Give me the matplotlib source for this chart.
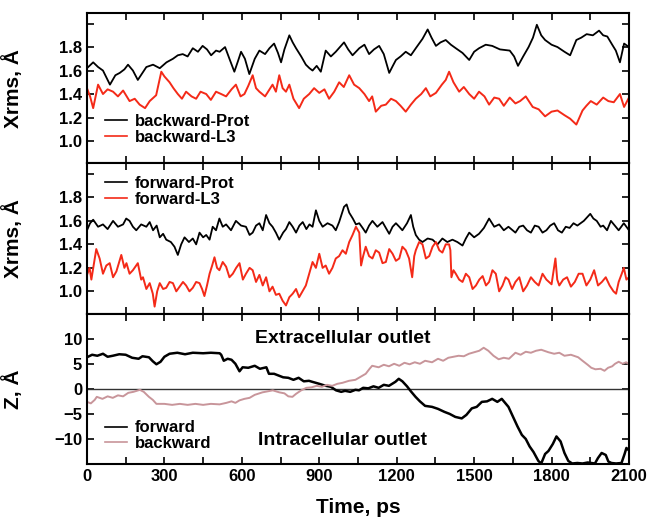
import matplotlib
matplotlib.use('Agg')
import matplotlib.pyplot as plt
from matplotlib.ticker import MultipleLocator, FixedLocator

plt.rcParams['font.family'] = ['Liberation Sans', 'DejaVu Sans']
plt.rcParams['font.weight'] = 'bold'

# backward run, Xrms
bp_t = [0, 24, 43, 62, 89, 110, 127, 145, 159, 178, 197, 215, 230, 256, 282, 308, 333, 352, 371, 390,
        410, 430, 448, 465, 481, 500, 514, 535, 552, 571, 585, 597, 612, 629, 650, 668, 690, 707, 725, 740,
        752, 765, 784, 797, 810, 830, 848, 862, 874, 890, 906, 925, 945, 964, 980, 996, 1012, 1029, 1055, 1075,
        1093, 1112, 1132, 1150, 1171, 1185, 1197, 1215, 1235, 1255, 1274, 1300, 1320, 1335, 1352, 1370, 1390, 1410, 1429, 1455,
        1481, 1500, 1519, 1545, 1570, 1600, 1638, 1655, 1670, 1690, 1711, 1728, 1743, 1760, 1775, 1800, 1823, 1850, 1872, 1896,
        1915, 1936, 1960, 1984, 2000, 2016, 2035, 2049, 2065, 2081, 2100]
bp_v = [1.62, 1.67, 1.63, 1.60, 1.48, 1.56, 1.58, 1.61, 1.65, 1.60, 1.52, 1.58, 1.63, 1.65, 1.62, 1.67, 1.70, 1.73, 1.74, 1.72,
        1.79, 1.76, 1.81, 1.78, 1.73, 1.77, 1.76, 1.80, 1.70, 1.59, 1.68, 1.76, 1.70, 1.57, 1.70, 1.77, 1.74, 1.79, 1.83, 1.75,
        1.67, 1.78, 1.90, 1.84, 1.79, 1.72, 1.65, 1.62, 1.60, 1.64, 1.59, 1.77, 1.72, 1.76, 1.80, 1.84, 1.78, 1.73, 1.79, 1.82,
        1.74, 1.78, 1.81, 1.74, 1.58, 1.64, 1.69, 1.72, 1.76, 1.73, 1.79, 1.87, 1.95, 1.88, 1.81, 1.84, 1.86, 1.82, 1.79, 1.75,
        1.69, 1.76, 1.79, 1.82, 1.81, 1.78, 1.77, 1.72, 1.64, 1.72, 1.80, 1.88, 1.99, 1.90, 1.86, 1.82, 1.80, 1.76, 1.73, 1.86,
        1.88, 1.91, 1.90, 1.94, 1.90, 1.89, 1.82, 1.77, 1.67, 1.83, 1.80]

bl_t = [0, 12, 24, 43, 62, 80, 101, 120, 140, 165, 185, 204, 225, 243, 268, 288, 300, 320, 335, 352,
        368, 384, 405, 423, 440, 462, 480, 500, 520, 539, 560, 577, 595, 610, 625, 642, 655, 668, 690, 719,
        732, 745, 758, 771, 784, 800, 822, 840, 861, 880, 900, 920, 938, 958, 977, 995, 1016, 1035, 1055, 1075,
        1093, 1105, 1119, 1140, 1158, 1178, 1197, 1215, 1235, 1255, 1274, 1295, 1313, 1330, 1352, 1375, 1390, 1403, 1420, 1442,
        1460, 1481, 1500, 1519, 1540, 1558, 1578, 1597, 1615, 1638, 1660, 1678, 1700, 1727, 1750, 1775, 1800, 1823, 1850, 1872,
        1896, 1920, 1935, 1952, 1975, 2000, 2020, 2041, 2065, 2081, 2100]
bl_v = [1.45, 1.38, 1.28, 1.48, 1.40, 1.44, 1.42, 1.38, 1.43, 1.34, 1.36, 1.31, 1.28, 1.34, 1.39, 1.59, 1.55, 1.50, 1.45, 1.40,
        1.36, 1.42, 1.38, 1.36, 1.42, 1.40, 1.35, 1.42, 1.40, 1.38, 1.44, 1.48, 1.38, 1.40, 1.47, 1.56, 1.45, 1.42, 1.38, 1.48,
        1.42, 1.56, 1.45, 1.42, 1.48, 1.36, 1.28, 1.36, 1.40, 1.45, 1.41, 1.44, 1.36, 1.42, 1.50, 1.46, 1.56, 1.48, 1.45, 1.40,
        1.34, 1.38, 1.25, 1.30, 1.31, 1.36, 1.34, 1.30, 1.25, 1.31, 1.36, 1.40, 1.45, 1.38, 1.41, 1.48, 1.52, 1.59, 1.50, 1.42,
        1.46, 1.40, 1.36, 1.42, 1.38, 1.31, 1.37, 1.36, 1.30, 1.37, 1.32, 1.34, 1.38, 1.29, 1.27, 1.21, 1.25, 1.26, 1.22, 1.19,
        1.14, 1.26, 1.30, 1.34, 1.31, 1.37, 1.34, 1.33, 1.40, 1.29, 1.37]

# forward run, Xrms
fp_t = [0, 12, 24, 43, 62, 80, 101, 120, 140, 152, 165, 178, 191, 210, 230, 243, 256, 270, 282, 295,
        307, 325, 339, 352, 365, 378, 395, 410, 423, 436, 450, 462, 475, 487, 500, 513, 526, 539, 558, 577,
        597, 616, 630, 642, 655, 668, 681, 694, 707, 719, 732, 745, 760, 771, 784, 797, 810, 823, 836, 850,
        862, 874, 887, 900, 913, 932, 951, 964, 977, 996, 1006, 1016, 1030, 1042, 1055, 1068, 1080, 1093, 1106, 1125,
        1145, 1158, 1171, 1184, 1197, 1210, 1222, 1240, 1255, 1264, 1274, 1287, 1300, 1320, 1339, 1358, 1377, 1396, 1416, 1435,
        1455, 1468, 1481, 1500, 1519, 1538, 1558, 1578, 1597, 1615, 1633, 1660, 1675, 1690, 1705, 1720, 1735, 1750, 1765, 1780,
        1795, 1810, 1825, 1840, 1855, 1870, 1885, 1900, 1925, 1950, 1962, 1975, 1990, 2000, 2015, 2030, 2045, 2060, 2080, 2100]
fp_v = [1.52, 1.58, 1.61, 1.55, 1.57, 1.53, 1.60, 1.55, 1.57, 1.62, 1.60, 1.55, 1.52, 1.57, 1.55, 1.59, 1.52, 1.56, 1.46, 1.49,
        1.44, 1.42, 1.38, 1.31, 1.40, 1.46, 1.42, 1.45, 1.40, 1.50, 1.46, 1.48, 1.44, 1.55, 1.52, 1.62, 1.55, 1.57, 1.52, 1.60,
        1.56, 1.55, 1.48, 1.50, 1.56, 1.58, 1.52, 1.65, 1.58, 1.55, 1.50, 1.44, 1.50, 1.53, 1.59, 1.55, 1.50, 1.56, 1.59, 1.53,
        1.57, 1.55, 1.69, 1.60, 1.55, 1.58, 1.56, 1.52, 1.59, 1.72, 1.74, 1.67, 1.62, 1.57, 1.58, 1.54, 1.50, 1.56, 1.60, 1.55,
        1.59, 1.54, 1.49, 1.55, 1.58, 1.55, 1.52, 1.58, 1.65, 1.55, 1.48, 1.44, 1.42, 1.45, 1.44, 1.40, 1.45, 1.42, 1.44, 1.42,
        1.39, 1.45, 1.50, 1.46, 1.49, 1.54, 1.62, 1.55, 1.57, 1.52, 1.55, 1.50, 1.55, 1.56, 1.52, 1.50, 1.56, 1.55, 1.50, 1.52,
        1.56, 1.58, 1.52, 1.50, 1.55, 1.54, 1.58, 1.56, 1.60, 1.66, 1.62, 1.60, 1.55, 1.56, 1.52, 1.60, 1.56, 1.52, 1.58, 1.52]

fl_t = [0, 10, 17, 36, 49, 62, 75, 88, 101, 114, 133, 145, 153, 165, 178, 197, 210, 217, 230, 243,
        255, 262, 272, 282, 295, 307, 320, 333, 346, 359, 372, 384, 397, 410, 423, 436, 446, 455, 465, 475,
        485, 494, 504, 513, 526, 539, 552, 565, 578, 591, 604, 616, 630, 642, 655, 668, 681, 694, 707, 719,
        732, 745, 758, 771, 784, 797, 810, 822, 835, 848, 861, 874, 887, 900, 913, 925, 938, 951, 964, 977,
        990, 1003, 1016, 1029, 1042, 1050, 1055, 1062, 1070, 1080, 1093, 1106, 1119, 1132, 1145, 1158, 1171, 1184, 1197, 1210,
        1222, 1235, 1248, 1260, 1268, 1274, 1287, 1300, 1313, 1326, 1339, 1352, 1365, 1377, 1390, 1403, 1408, 1412, 1420, 1429,
        1442, 1455, 1468, 1481, 1494, 1507, 1520, 1533, 1546, 1558, 1571, 1584, 1597, 1610, 1622, 1633, 1647, 1660, 1675, 1690,
        1705, 1720, 1735, 1750, 1765, 1780, 1800, 1815, 1822, 1830, 1845, 1860, 1875, 1890, 1905, 1920, 1935, 1950, 1965, 1980,
        1995, 2010, 2025, 2040, 2050, 2060, 2072, 2080, 2090, 2100]
fl_v = [1.14, 1.20, 1.10, 1.36, 1.28, 1.15, 1.22, 1.24, 1.12, 1.17, 1.31, 1.20, 1.24, 1.15, 1.18, 1.24, 1.10, 1.12, 1.02, 1.07,
        0.98, 0.87, 1.00, 1.07, 1.02, 1.03, 1.08, 1.07, 1.00, 1.04, 1.08, 1.05, 1.00, 1.03, 1.08, 1.07, 1.02, 0.96, 1.05, 1.15,
        1.22, 1.29, 1.20, 1.18, 1.25, 1.21, 1.12, 1.15, 1.20, 1.24, 1.10, 1.15, 1.20, 1.18, 1.08, 1.14, 1.05, 1.12, 1.00, 1.04,
        0.97, 0.98, 0.92, 0.88, 0.95, 0.98, 1.02, 0.95, 1.00, 1.05, 1.15, 1.25, 1.20, 1.32, 1.20, 1.22, 1.15, 1.20, 1.28, 1.30,
        1.35, 1.32, 1.42, 1.48, 1.55, 1.52, 1.50, 1.22, 1.30, 1.38, 1.30, 1.28, 1.35, 1.33, 1.24, 1.25, 1.36, 1.32, 1.26, 1.28,
        1.38, 1.35, 1.28, 1.12, 1.30, 1.35, 1.42, 1.40, 1.28, 1.30, 1.38, 1.42, 1.35, 1.33, 1.40, 1.40, 1.35, 1.12, 1.18, 1.15,
        1.10, 1.08, 1.15, 1.12, 1.02, 1.05, 1.10, 1.13, 1.05, 1.08, 1.18, 1.15, 1.00, 1.05, 1.12, 1.10, 1.02, 1.08, 1.12, 1.00,
        1.05, 1.12, 1.08, 1.05, 1.15, 1.10, 1.06, 1.28, 1.10, 1.05, 1.10, 1.12, 1.04, 1.08, 1.15, 1.15, 1.05, 1.10, 1.18, 1.05,
        1.08, 1.12, 1.05, 1.00, 0.98, 1.08, 1.15, 1.20, 1.10, 1.12]

# z position of the molecule
zf_t = [0, 20, 40, 62, 80, 100, 125, 150, 175, 200, 215, 240, 255, 269, 285, 300, 320, 350, 380, 410,
        450, 480, 514, 520, 530, 545, 560, 575, 591, 603, 625, 650, 670, 695, 705, 725, 745, 760, 780, 800,
        820, 840, 860, 873, 900, 925, 945, 965, 985, 1000, 1020, 1040, 1054, 1070, 1090, 1110, 1130, 1150, 1170, 1195,
        1208, 1222, 1240, 1255, 1273, 1290, 1310, 1337, 1360, 1385, 1405, 1427, 1452, 1470, 1491, 1510, 1530, 1550, 1570, 1590,
        1607, 1620, 1633, 1650, 1668, 1685, 1700, 1715, 1730, 1749, 1760, 1775, 1788, 1805, 1819, 1835, 1850, 1865, 1880, 1900,
        1920, 1940, 1968, 1980, 1994, 2010, 2020, 2032, 2050, 2071, 2083, 2090, 2100]
zf_v = [6.3, 6.8, 6.6, 7.0, 6.4, 6.6, 6.9, 6.8, 6.2, 6.0, 6.5, 6.3, 5.5, 4.9, 5.4, 6.4, 7.0, 7.2, 6.9, 7.2,
        7.1, 7.2, 7.1, 6.8, 5.6, 6.0, 5.8, 5.0, 3.5, 4.3, 4.2, 4.6, 4.0, 4.3, 3.0, 3.0, 2.6, 2.3, 2.2, 1.8,
        2.2, 1.5, 1.6, 1.4, 1.0, 0.6, 0.4, -0.3, -0.6, -0.4, -0.6, -0.2, -0.3, 0.2, 0.1, 0.5, 0.2, 0.8, 0.6, 1.4,
        2.0, 1.5, 0.5, -0.5, -1.6, -2.5, -3.4, -3.6, -4.0, -4.6, -5.0, -5.6, -5.9, -5.2, -3.9, -3.6, -2.6, -2.5, -2.0, -2.6,
        -2.0, -2.8, -3.6, -5.5, -7.5, -9.2, -10.0, -11.5, -12.6, -14.4, -14.9, -13.0, -12.4, -11.0, -9.5, -10.5, -12.8, -14.4, -14.9, -14.8,
        -14.9, -14.7, -14.9, -13.8, -12.8, -13.2, -14.5, -14.8, -14.9, -14.8, -13.0, -11.8, -12.3]

zb_t = [0, 15, 30, 38, 60, 80, 100, 120, 140, 160, 180, 205, 220, 240, 255, 269, 300, 330, 360, 390,
        420, 450, 480, 514, 540, 560, 575, 591, 610, 630, 650, 680, 700, 720, 745, 765, 780, 796, 810, 830,
        850, 870, 890, 910, 930, 950, 970, 990, 1015, 1040, 1060, 1080, 1095, 1105, 1130, 1150, 1170, 1190, 1210, 1230,
        1250, 1270, 1290, 1310, 1337, 1360, 1380, 1400, 1420, 1440, 1460, 1480, 1500, 1520, 1537, 1555, 1575, 1595, 1615, 1635,
        1660, 1680, 1700, 1720, 1740, 1760, 1788, 1810, 1830, 1850, 1875, 1903, 1920, 1940, 1954, 1970, 1990, 2005, 2019, 2035,
        2046, 2060, 2075, 2089, 2100]
zb_v = [-2.6, -2.9, -2.2, -1.6, -2.0, -1.5, -1.8, -1.3, -1.5, -0.8, -0.6, -0.2, -0.6, -1.6, -2.2, -3.0, -3.0, -3.2, -3.0, -3.2,
        -3.0, -3.2, -3.0, -3.1, -2.8, -2.5, -2.8, -2.3, -2.0, -1.8, -1.2, -0.7, -0.5, -0.3, -0.7, -0.9, -1.5, -1.6, -1.0, -0.3,
        0.2, 0.3, 0.6, 0.4, 0.8, 0.6, 1.0, 1.2, 1.6, 1.8, 2.4, 3.0, 4.0, 4.6, 4.3, 4.8, 4.5, 5.0, 4.6, 5.2,
        4.9, 5.3, 5.0, 5.6, 5.3, 6.0, 5.6, 6.2, 6.4, 6.6, 6.5, 7.0, 7.3, 7.6, 8.2, 7.6, 6.6, 5.9, 6.2, 6.0,
        7.2, 6.8, 7.4, 7.2, 7.6, 7.8, 7.3, 7.0, 7.2, 6.6, 6.8, 6.3, 5.6, 4.8, 4.2, 3.9, 4.0, 3.6, 4.2, 4.5,
        5.0, 5.4, 5.0, 5.3, 4.9]

red = '#f42a18'
pink = '#c8959a'

fig = plt.figure(figsize=(6.52, 5.20), dpi=100)
gs = fig.add_gridspec(3, 1, left=0.1334, right=0.9647, top=0.975, bottom=0.1077, hspace=0)
ax1 = fig.add_subplot(gs[0])
ax2 = fig.add_subplot(gs[1], sharex=ax1)
ax3 = fig.add_subplot(gs[2], sharex=ax1)

ax1.plot(bp_t, bp_v, color='black', lw=1.3, label='backward-Prot')
ax1.plot(bl_t, bl_v, color=red, lw=1.4, label='backward-L3')
ax2.plot(fp_t, fp_v, color='black', lw=1.3, label='forward-Prot')
ax2.plot(fl_t, fl_v, color=red, lw=1.4, label='forward-L3')
ax3.axhline(0, color='#333333', lw=1.0)
ax3.plot(zf_t, zf_v, color='black', lw=1.8, label='forward')
ax3.plot(zb_t, zb_v, color=pink, lw=1.4, label='backward')

for ax in (ax1, ax2):
    ax.set_ylim(0.81, 2.09)
    ax.yaxis.set_major_locator(FixedLocator([1.0, 1.2, 1.4, 1.6, 1.8, 2.0]))
    ax.set_yticklabels(['1.0', '1.2', '1.4', '1.6', '1.8', ''])
    ax.set_ylabel('Xrms, Å', fontsize=15, fontweight='bold')
ax3.set_ylim(-15, 15)
ax3.set_yticks([-10, -5, 0, 5, 10])
ax3.set_yticklabels(['\u221210', '\u22125', '0', '5', '10'])
ax3.set_ylabel('Z, Å', fontsize=15, fontweight='bold')

ax3.set_xlim(0, 2100)
ax3.xaxis.set_major_locator(MultipleLocator(300))
ax3.xaxis.set_minor_locator(MultipleLocator(150))
ax3.set_xlabel('Time, ps', fontsize=15, fontweight='bold', labelpad=10)

for ax in (ax1, ax2, ax3):
    ax.tick_params(which='both', direction='in', top=True, right=True, labelsize=12, width=1.2, length=5)
    for s in ax.spines.values():
        s.set_linewidth(1.5)
    ax.yaxis.set_label_coords(-0.118, 0.5)
    for lab in ax.get_xticklabels() + ax.get_yticklabels():
        lab.set_fontweight('bold')
ax1.tick_params(labelbottom=False)
ax2.tick_params(labelbottom=False)

ax3.text(990, 10, 'Extracellular outlet', ha='center', va='center', fontsize=14, fontweight='bold')
ax3.text(990, -10.3, 'Intracellular outlet', ha='center', va='center', fontsize=14, fontweight='bold')

leg_kw = dict(frameon=False, fontsize=12, handlelength=1.3, handletextpad=0.5,
              labelspacing=0.05, borderpad=0, borderaxespad=0, loc='upper left')
ax1.legend(bbox_to_anchor=(0.033, 0.33), **leg_kw)
ax2.legend(bbox_to_anchor=(0.033, 0.915), **leg_kw)
ax3.legend(bbox_to_anchor=(0.033, 0.29), **leg_kw)
for ax in (ax1, ax2, ax3):
    leg = ax.get_legend()
    for t in leg.get_texts():
        t.set_fontweight('bold')
    for h in leg.get_lines():
        h.set_linewidth(1.2)

plt.savefig('out.png', dpi=100)
